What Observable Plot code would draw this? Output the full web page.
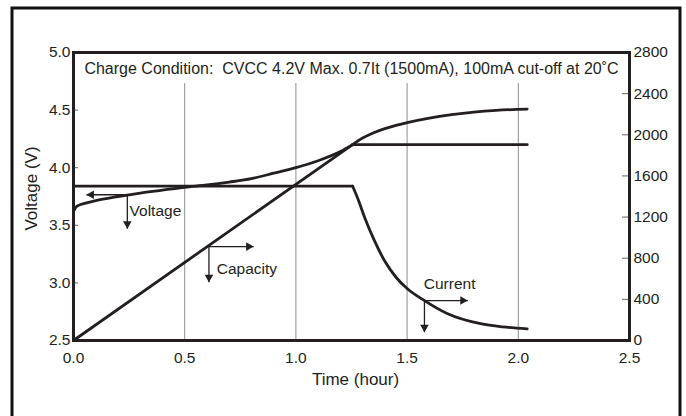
<!DOCTYPE html>
<html><head><meta charset="utf-8">
<script src="https://cdn.jsdelivr.net/npm/d3@7"></script>
<script src="https://cdn.jsdelivr.net/npm/@observablehq/plot@0.6"></script>
<style>body{margin:0;background:#fff;}</style>
</head><body><div id="chart"></div>
<script>
// ---- data ----
const hoursV   = [0, 0.01, 0.025, 0.05, 0.1, 0.2, 0.3, 0.4, 0.5, 0.6, 0.7, 0.8, 0.9, 1.0, 1.1, 1.2, 1.255, 2.04];
const voltage  = [3.62, 3.655, 3.675, 3.69, 3.715, 3.75, 3.78, 3.805, 3.83, 3.85, 3.875, 3.905, 3.952, 4.0, 4.06, 4.14, 4.2, 4.2];
const hoursC   = [0, 1.255, 1.3, 1.35, 1.4, 1.45, 1.5, 1.6, 1.7, 1.8, 1.9, 2.04];
const capacity = [0, 1905, 1968, 2020, 2060, 2092, 2118, 2162, 2195, 2220, 2237, 2250];
const hoursI   = [0, 1.255, 1.28, 1.31, 1.35, 1.4, 1.45, 1.5, 1.58, 1.68, 1.83, 1.93, 2.04];
const current  = [1500, 1500, 1370, 1190, 985, 770, 615, 505, 385, 262, 163, 132, 113];
const kneeHour = 1.255;

const xTicks = [0, 0.5, 1.0, 1.5, 2.0, 2.5];
const gridHours = [0.5, 1.0, 1.5, 2.0];
const leftTicks = [2.5, 3.0, 3.5, 4.0, 4.5, 5.0];
const rightTicks = [0, 400, 800, 1200, 1600, 2000, 2400, 2800];

const annoLabels  = ["Voltage", "Capacity", "Current"];
const annoHour    = [0.242, 0.609, 1.578];
const annoLevel   = [3.765, 3.315, 2.847];
const annoSideTo  = [0.058, 0.81, 1.773];
const annoDownTo  = [3.47, 3.006, 2.572];
const labelHour   = [0.252, 0.644, 1.575];
const labelLevel  = [3.628, 3.122, 2.992];

const conditionText = "Charge Condition:  CVCC 4.2V Max. 0.7It (1500mA), 100mA cut-off at 20˚C";

// ---- derived ----
const toV = m => 2.5 + m / 2800 * 2.5;
const fromV = v => (v - 2.5) / 2.5 * 2800;
const volt = hoursV.map((t, i) => ({t, y: voltage[i]}));
const cap = hoursC.map((t, i) => ({t, y: toV(capacity[i])}));
const cur = hoursI.map((t, i) => ({t, y: toV(current[i])}));
const annos = annoLabels.map((label, i) => ({
  label, t: annoHour[i], v: annoLevel[i], hx: annoSideTo[i], vy: annoDownTo[i],
  lx: labelHour[i], ly: labelLevel[i]
}));

const ink = "#231f20";
const font = "'Liberation Sans', Arial, sans-serif";
const lw = 2.8;

const seg = (arr, before) => arr.filter(d => before ? d.t <= kneeHour : d.t >= kneeHour);

const plot = Plot.plot({
  width: 686, height: 416,
  marginLeft: 73, marginRight: 57, marginTop: 52, marginBottom: 76,
  style: {fontFamily: font, fontSize: "15.5px", color: ink, background: "white"},
  x: {domain: [0, 2.5], label: null},
  y: {domain: [2.5, 5], label: null},
  marks: [
    Plot.ruleX(gridHours, {x: d => d, y1: 2.5, y2: 4.73, stroke: "#8f8f8f", strokeWidth: 1}),
    // current
    Plot.line(seg(cur, true), {x: "t", y: "y", stroke: ink, strokeWidth: lw}),
    Plot.line(seg(cur, false), {x: "t", y: "y", curve: "monotone-x", stroke: ink, strokeWidth: lw}),
    // capacity
    Plot.line(seg(cap, true), {x: "t", y: "y", stroke: ink, strokeWidth: lw}),
    Plot.line(seg(cap, false), {x: "t", y: "y", curve: "monotone-x", stroke: ink, strokeWidth: lw}),
    // voltage
    Plot.line(seg(volt, true), {x: "t", y: "y", curve: "monotone-x", stroke: ink, strokeWidth: lw}),
    Plot.line(seg(volt, false), {x: "t", y: "y", stroke: ink, strokeWidth: lw}),
    // annotation arrows
    Plot.link(annos, {x1: "t", y1: "v", x2: "hx", y2: "v", stroke: ink, strokeWidth: 1.3}),
    Plot.link(annos, {x1: "t", y1: "v", x2: "t", y2: "vy", stroke: ink, strokeWidth: 1.3}),
    Plot.dot(annos, {filter: d => d.hx < d.t, x: "hx", y: "v", dx: 5, symbol: "triangle", rotate: -90, r: 3.2, fill: ink, stroke: "none"}),
    Plot.dot(annos, {filter: d => d.hx > d.t, x: "hx", y: "v", dx: -5, symbol: "triangle", rotate: 90, r: 3.2, fill: ink, stroke: "none"}),
    Plot.dot(annos, {x: "t", y: "vy", dy: -5, symbol: "triangle", rotate: 180, r: 3.2, fill: ink, stroke: "none"}),
    Plot.text(annos, {x: "lx", y: "ly", text: "label", textAnchor: "start", lineAnchor: "middle", fontSize: 15.5, fill: ink}),
    // condition text
    Plot.text([conditionText], {frameAnchor: "top", dy: 16, lineAnchor: "middle", fontSize: 16, fill: ink}),
    // inward ticks
    Plot.tickY(leftTicks, {y: d => d, insetRight: 551, stroke: "#666", strokeWidth: 1}),
    Plot.tickY(rightTicks.map(toV), {y: d => d, insetLeft: 549, stroke: "#666", strokeWidth: 1}),
    // axes
    Plot.axisX({ticks: xTicks, tickFormat: d3.format(".1f"), tickSize: 0, tickPadding: 11, label: null, fill: ink}),
    Plot.axisY({anchor: "left", ticks: leftTicks, tickFormat: d3.format(".1f"), tickSize: 0, tickPadding: 3, label: null, fill: ink}),
    Plot.axisY({anchor: "right", ticks: rightTicks.map(toV), tickFormat: d => String(Math.round(fromV(d))), tickSize: 0, tickPadding: 4, label: null, fill: ink}),
    Plot.text(["Voltage (V)"], {frameAnchor: "left", dx: -42, dy: -8, rotate: -90, textAnchor: "middle", lineAnchor: "middle", fontSize: 17, fill: ink}),
    Plot.text(["Time (hour)"], {frameAnchor: "bottom", dx: 4, dy: 39, textAnchor: "middle", lineAnchor: "middle", fontSize: 17, fill: ink}),
    Plot.frame({stroke: ink, strokeWidth: 3})
  ]
});

d3.select(plot).append("rect")
  .attr("x", 12).attr("y", 8).attr("width", 668).attr("height", 430)
  .attr("fill", "none").attr("stroke", "#111").attr("stroke-width", 3);

document.getElementById("chart").appendChild(plot);
</script>
</body></html>
